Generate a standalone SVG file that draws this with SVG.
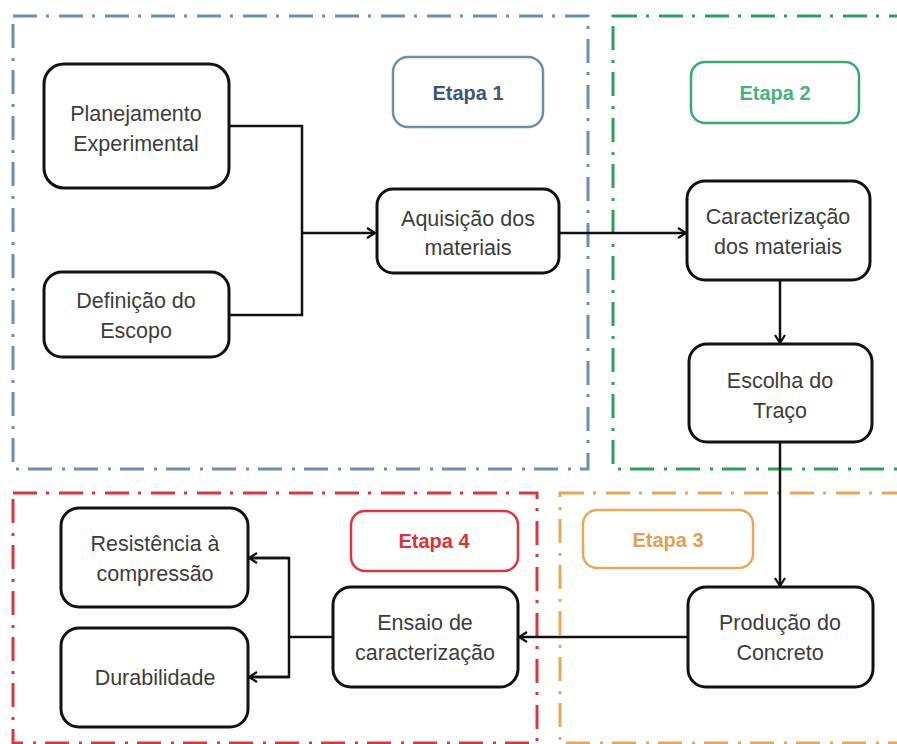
<svg xmlns="http://www.w3.org/2000/svg" width="897" height="744" viewBox="0 0 897 744">
<defs>
<marker id="arr" viewBox="0 0 12 12" refX="10" refY="6" markerWidth="12" markerHeight="12" markerUnits="userSpaceOnUse" orient="auto">
<polyline points="2,1 10,6 2,11" fill="none" stroke="#111" stroke-width="2.2"/>
</marker>
<style>
.frame{fill:none;stroke-width:3;stroke-dasharray:24 9 3 10}
.node{fill:#fff;stroke:#111;stroke-width:3}
.lbl{fill:#fff;stroke-width:2.5}
.t{font-family:"Liberation Sans",Arial,sans-serif;font-size:21.5px;fill:#3d3d3d;text-anchor:middle}
.et{font-family:"Liberation Sans",Arial,sans-serif;font-size:20px;font-weight:bold;text-anchor:middle}
.c{fill:none;stroke:#111;stroke-width:2.5}
</style>
</defs>
<rect width="897" height="744" fill="#fff"/>
<g id="frames">
<rect class="frame" x="13" y="16" width="575" height="453" stroke="#6a8fb5"/>
<rect class="frame" x="613" y="16" width="300" height="453" stroke="#2e9e5e"/>
<rect class="frame" x="13" y="493" width="524" height="250" stroke="#d9363e"/>
<rect class="frame" x="560" y="493" width="350" height="250" stroke="#e8a85a"/>
</g>
<g id="etapa1"><rect class="lbl" x="393" y="57" width="150" height="70" rx="15" stroke="#6f8db0"/><text class="et" x="468" y="100" fill="#3f5673">Etapa 1</text></g>
<g id="etapa2"><rect class="lbl" x="691" y="62" width="168" height="61" rx="14" stroke="#3aaa6e"/><text class="et" x="775" y="100" fill="#4caf7d">Etapa 2</text></g>
<g id="etapa3"><rect class="lbl" x="583" y="510" width="170" height="58" rx="14" stroke="#e8a85a"/><text class="et" x="668" y="547" fill="#e0a055">Etapa 3</text></g>
<g id="etapa4"><rect class="lbl" x="351" y="511" width="167" height="60" rx="14" stroke="#d9363e"/><text class="et" x="434" y="548" fill="#d9343a">Etapa 4</text></g>
<g id="connectors">
<polyline class="c" points="229,126 302,126 302,315 229,315"/>
<line class="c" x1="302" y1="233" x2="375" y2="233" marker-end="url(#arr)"/>
<line class="c" x1="560" y1="233" x2="686" y2="233" marker-end="url(#arr)"/>
<line class="c" x1="780" y1="280" x2="780" y2="343" marker-end="url(#arr)"/>
<line class="c" x1="780" y1="442" x2="780" y2="586" marker-end="url(#arr)"/>
<line class="c" x1="688" y1="637" x2="519" y2="637" marker-end="url(#arr)"/>
<polyline class="c" points="333,637 289,637"/>
<polyline class="c" points="249,558 289,558 289,677 249,677"/>
<line class="c" x1="289" y1="558" x2="249" y2="558" marker-end="url(#arr)"/>
<line class="c" x1="289" y1="677" x2="249" y2="677" marker-end="url(#arr)"/>
</g>
<g id="planejamento"><rect class="node" x="44" y="64" width="185" height="124" rx="20"/><text class="t" x="136" y="121">Planejamento</text><text class="t" x="136" y="151">Experimental</text></g>
<g id="definicao"><rect class="node" x="44" y="272" width="185" height="85" rx="18"/><text class="t" x="136" y="308">Definição do</text><text class="t" x="136" y="338">Escopo</text></g>
<g id="aquisicao"><rect class="node" x="377" y="189" width="182" height="84" rx="16"/><text class="t" x="468" y="226">Aquisição dos</text><text class="t" x="468" y="255">materiais</text></g>
<g id="caracterizacao"><rect class="node" x="687" y="181" width="183" height="99" rx="18"/><text class="t" x="778" y="224">Caracterização</text><text class="t" x="778" y="254">dos materiais</text></g>
<g id="escolha"><rect class="node" x="689" y="344" width="183" height="98" rx="18"/><text class="t" x="780" y="388">Escolha do</text><text class="t" x="780" y="418">Traço</text></g>
<g id="producao"><rect class="node" x="688" y="587" width="185" height="100" rx="18"/><text class="t" x="780" y="630">Produção do</text><text class="t" x="780" y="660">Concreto</text></g>
<g id="ensaio"><rect class="node" x="333" y="587" width="185" height="100" rx="18"/><text class="t" x="425" y="630">Ensaio de</text><text class="t" x="425" y="660">caracterização</text></g>
<g id="resistencia"><rect class="node" x="61" y="508" width="187" height="99" rx="18"/><text class="t" x="155" y="551">Resistência à</text><text class="t" x="155" y="581">compressão</text></g>
<g id="durabilidade"><rect class="node" x="61" y="628" width="187" height="99" rx="18"/><text class="t" x="155" y="685">Durabilidade</text></g>
</svg>
